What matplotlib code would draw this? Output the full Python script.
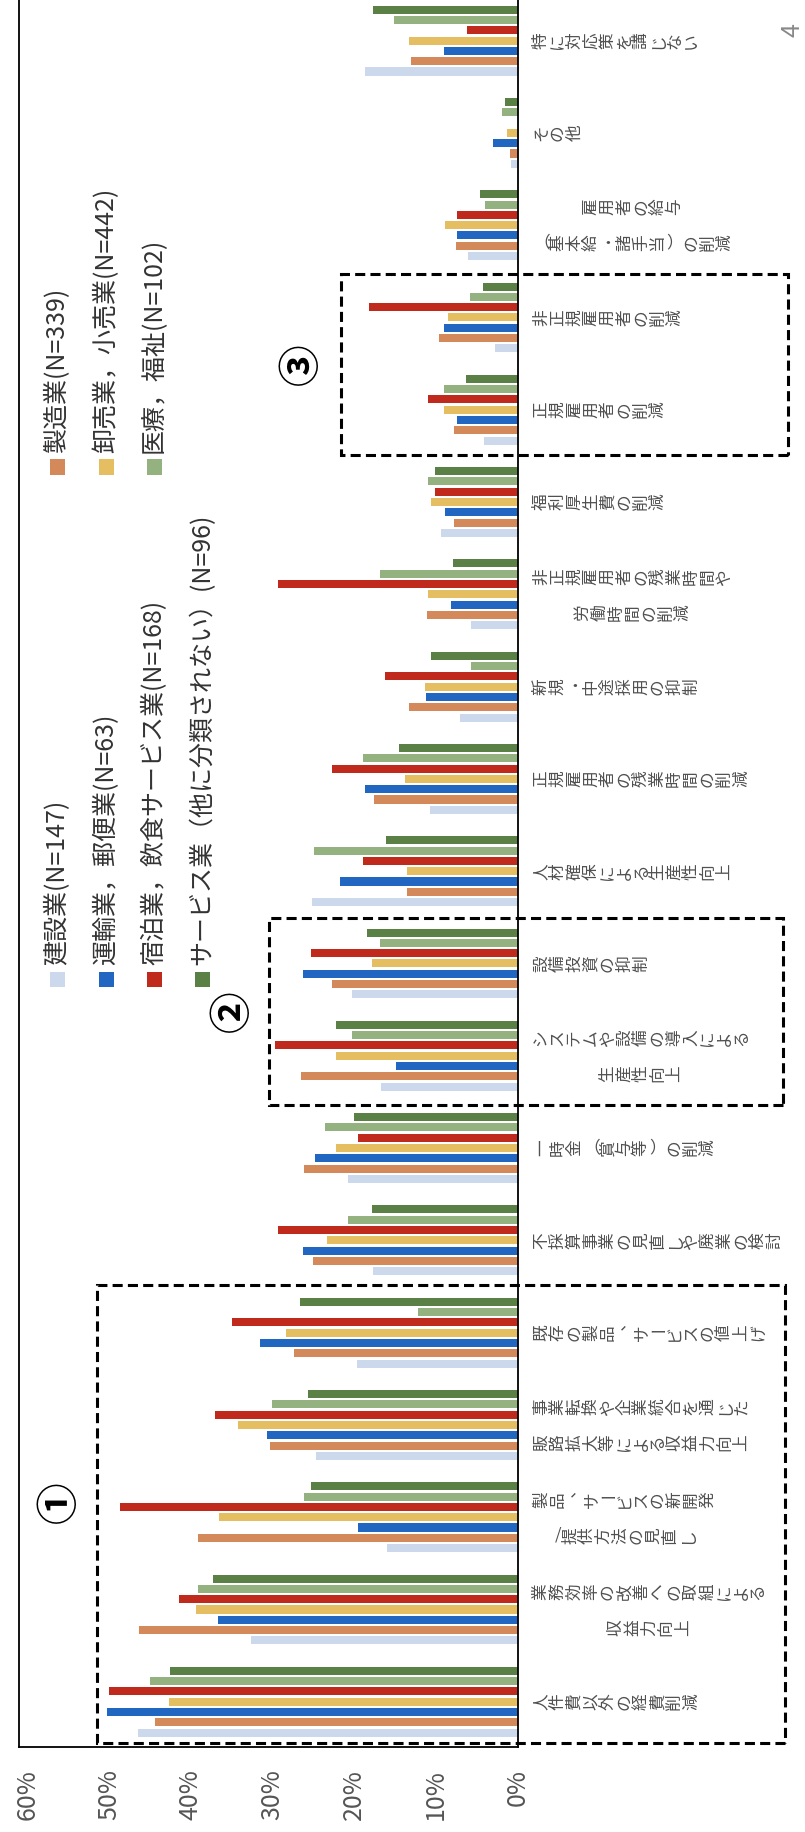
import matplotlib
matplotlib.use('Agg')
import matplotlib.pyplot as plt
from matplotlib.patches import Rectangle
import numpy as np

plt.rcParams['font.family'] = ['Noto Sans CJK JP', 'DejaVu Sans']

W, H = 805, 1832

categories = [
    '人件費以外の経費削減',
    '業務効率の改善への取組による\n収益力向上',
    '製品、サービスの新開発\n/提供方法の見直し',
    '事業転換や企業統合を通じた\n販路拡大等による収益力向上',
    '既存の製品、サービスの値上げ',
    '不採算事業の見直しや廃業の検討',
    '一時金（賞与等）の削減',
    'システムや設備の導入による\n生産性向上',
    '設備投資の抑制',
    '人材確保による生産性向上',
    '正規雇用者の残業時間の削減',
    '新規・中途採用の抑制',
    '非正規雇用者の残業時間や\n労働時間の削減',
    '福利厚生費の削減',
    '正規雇用者の削減',
    '非正規雇用者の削減',
    '雇用者の給与\n（基本給・諸手当）の削減',
    'その他',
    '特に対応策を講じない',
]

series_names = ['建設業(N=147)', '製造業(N=339)', '運輸業，郵便業(N=63)',
                '卸売業，小売業(N=442)', '宿泊業，飲食サービス業(N=168)',
                '医療，福祉(N=102)', 'サービス業（他に分類されない）(N=96)']
colors = ['#ccd9ed', '#d4895a', '#2166c0', '#e6be62', '#c02a1d', '#93b27f', '#5b8046']

# percent, one value per category (bottom to top)
construction = [46.4, 32.7, 16.0, 24.7, 19.7, 17.7, 20.8, 16.8, 20.3, 25.2, 10.8, 7.1, 5.7, 9.4, 4.2, 2.8, 6.1, 0.8, 18.7]
manufacturing = [44.4, 46.3, 39.1, 30.3, 27.4, 25.0, 26.1, 26.5, 22.7, 13.6, 17.6, 13.3, 11.1, 7.8, 7.8, 9.7, 7.6, 1.0, 13.1]
transport = [50.3, 36.7, 19.5, 30.7, 31.5, 26.3, 24.8, 14.9, 26.3, 21.8, 18.7, 11.2, 8.2, 8.9, 7.4, 9.0, 7.4, 3.1, 9.0]
wholesale = [42.7, 39.4, 36.5, 34.2, 28.4, 23.3, 22.2, 22.3, 17.9, 13.6, 13.8, 11.4, 11.0, 10.6, 9.1, 8.5, 8.9, 1.4, 13.3]
hospitality = [50.0, 41.5, 48.6, 37.1, 35.0, 29.3, 19.5, 29.7, 25.3, 18.9, 22.7, 16.3, 29.3, 10.1, 11.0, 18.2, 7.4, 0.0, 6.2]
medical = [45.0, 39.1, 26.1, 30.1, 12.2, 20.8, 23.6, 20.3, 16.9, 24.9, 18.9, 5.7, 16.9, 11.0, 9.1, 5.9, 4.0, 2.0, 15.1]
services = [42.5, 37.3, 25.3, 25.7, 26.6, 17.9, 20.1, 22.3, 18.4, 16.1, 14.5, 10.6, 8.0, 10.2, 6.4, 4.3, 4.7, 1.6, 17.7]

tick_vals = [0, 10, 20, 30, 40, 50, 60]
tick_labels = ['0%', '10%', '20%', '30%', '40%', '50%', '60%']

series = [construction, manufacturing, transport, wholesale, hospitality, medical, services]


def fx(x):
    return x / W


def fy(y):
    return 1 - y / H


fig = plt.figure(figsize=(W / 100, H / 100), dpi=100)
ax = fig.add_axes([fx(19), fy(1747), (518 - 19) / W, 1747 / H])

idx = np.arange(len(categories))
step = 0.1116
for k, vals in enumerate(series):
    ax.barh(idx + (k - 3) * step, vals, height=0.087, color=colors[k], linewidth=0)

ax.set_xlim(61, 0)
ax.set_ylim(-0.49, 18.44)
ax.set_yticks([])
ax.set_xticks(tick_vals)
ax.set_xticklabels(tick_labels, rotation=90, fontsize=18, color='#555555')
ax.tick_params(axis='x', length=0, pad=16)
ax.spines['top'].set_visible(False)
for s in ['left', 'bottom', 'right']:
    ax.spines[s].set_linewidth(1.3)
    ax.spines[s].set_color('black')

# category labels: vertical writing turned on its side
fs = 12
em = fs * 100 / 72
upright = set('ー（）/・')
half = set('/')
for i, cat in enumerate(categories):
    lines = cat.split('\n')
    widths = [sum(0.5 * em if c in half else em for c in ln) for ln in lines]
    wmax = max(widths)
    dys = [0] if len(lines) == 1 else [18, -18]
    for ln, wl, dy in zip(lines, widths, dys):
        x = 15 + (wmax - wl) / 2
        for c in ln:
            adv = 0.5 * em if c in half else em
            rot = 0 if c in upright else (270 if c == '、' else 90)
            ax.annotate(c, xy=(0, i), xycoords='data',
                        xytext=((x + adv / 2) * 0.72, dy * 0.72), textcoords='offset points',
                        rotation=rot, ha='center', va='center',
                        fontsize=fs, color='#505050', annotation_clip=False)
            x += adv

# legend drawn sideways
legend_pos = [(57, 979), (57, 467), (106, 979), (106, 467), (154, 979), (154, 467), (202, 979)]
for (x, y), name, c in zip(legend_pos, series_names, colors):
    fig.add_artist(Rectangle((fx(x - 7.5), fy(y + 7.5)), 15 / W, 15 / H,
                             transform=fig.transFigure, color=c, linewidth=0))
    fig.text(fx(x), fy(y - 14), name, rotation=90, ha='center', va='bottom',
             fontsize=18, color='#333333')

# dashed highlight boxes
dash = (0, (3.3, 1.7))
for (x0, x1, y0, y1) in [(51.5, -32.6, -0.45, 4.52), (30.4, -32.4, 6.47, 8.49), (21.6, -33.0, 13.51, 15.47)]:
    ax.add_patch(Rectangle((x1, y0), x0 - x1, y1 - y0, fill=False, edgecolor='black',
                           linewidth=2.2, linestyle=dash, clip_on=False))

for t, (x, y) in zip(['①', '②', '③'], [(56.0, 2.16), (34.8, 7.48), (26.4, 14.49)]):
    ax.text(x, y, t, rotation=90, ha='center', va='center', fontsize=30,
            fontweight='bold', color='black')

fig.text(fx(792), fy(30), '4', rotation=90, ha='center', va='center', fontsize=18, color='#888888')

fig.savefig('out.png', dpi=100)
